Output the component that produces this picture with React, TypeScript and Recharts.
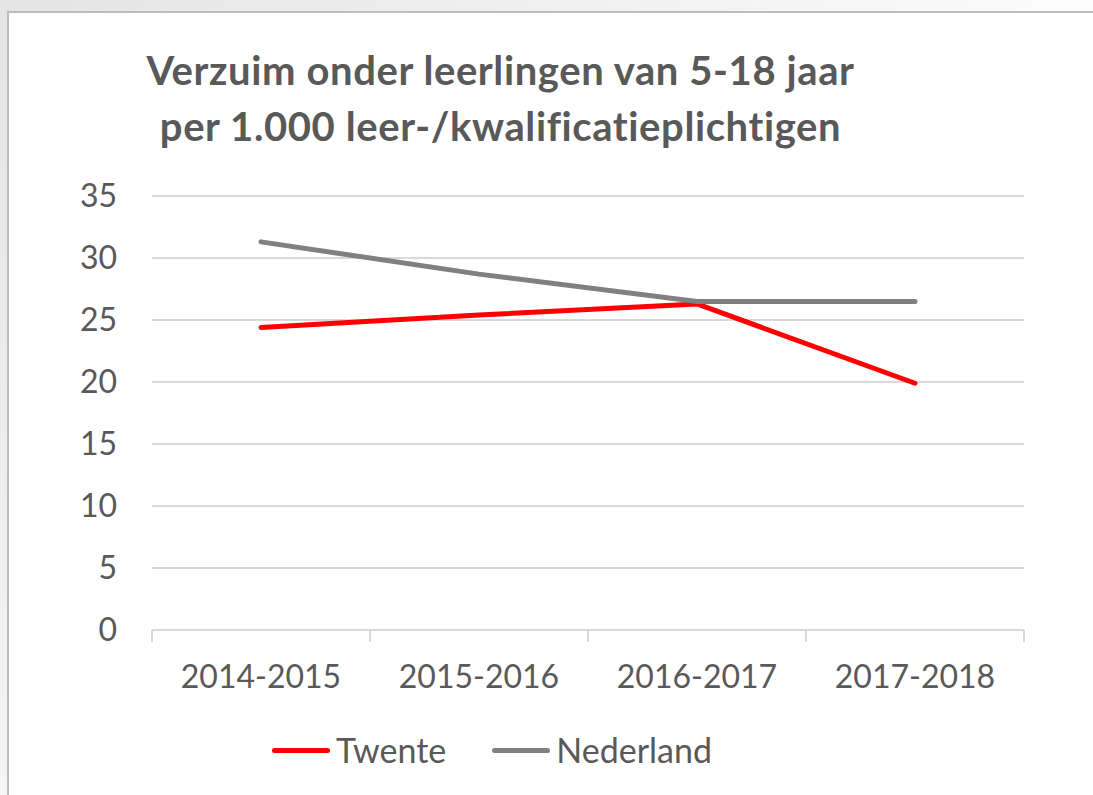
import { CartesianGrid, Line, LineChart, XAxis, YAxis } from 'recharts';

const years = ['2014-2015', '2015-2016', '2016-2017', '2017-2018'];
const twente = [24.4, 25.4, 26.3, 19.9];
const nederland = [31.3, 28.7, 26.5, 26.5];
const yTicks = [0, 5, 10, 15, 20, 25, 30, 35];

const series = [
  { key: 'twente', name: 'Twente', color: '#ff0000' },
  { key: 'nederland', name: 'Nederland', color: '#808080' },
];

const data = years.map((year, i) => ({ year, twente: twente[i], nederland: nederland[i] }));

const FONT = 'Lato, "Open Sans", sans-serif';
const TEXT = '#595959';
const GRID = '#d9d9d9';
const X_TICK_SIZE = 0;
const X_TICK_MARGIN = 34;

function XTick(props: any) {
  const { x, y, payload, index } = props;
  const half = payload?.offset || 109;
  const axisY = y - X_TICK_SIZE - X_TICK_MARGIN;
  const last = (payload?.index ?? index) === years.length - 1;
  return (
    <g>
      <line x1={x - half} x2={x - half} y1={axisY} y2={axisY + 12} stroke={GRID} strokeWidth={2} />
      {last ? <line x1={x + half} x2={x + half} y1={axisY} y2={axisY + 12} stroke={GRID} strokeWidth={2} /> : null}
      <text x={x} y={y} dy="0.75em" textAnchor="middle" fill={TEXT} fontSize={32} fontFamily={FONT}>
        {payload.value}
      </text>
    </g>
  );
}

export default function App() {
  return (
    <div
      style={{
        position: 'absolute',
        left: 0,
        top: 0,
        width: 1093,
        height: 795,
        overflow: 'hidden',
        background: 'linear-gradient(135deg, #e4e4e4 0%, #f2f2f2 35%, #ffffff 65%)',
        fontFamily: FONT,
      }}
    >
      <div
        style={{
          position: 'absolute',
          left: 7,
          top: 11,
          width: 1100,
          height: 800,
          background: '#fff',
          borderLeft: '2px solid #bdbdbd',
          borderTop: '2px solid #bdbdbd',
        }}
      />
      <div
        style={{
          position: 'absolute',
          left: 0,
          top: 42,
          width: 1001,
          textAlign: 'center',
          fontSize: 40,
          letterSpacing: 0.6,
          lineHeight: '56px',
          fontWeight: 700,
          color: TEXT,
        }}
      >
        <div>Verzuim onder leerlingen van 5-18 jaar</div>
        <div>per 1.000 leer-/kwalificatieplichtigen</div>
      </div>
      <div style={{ position: 'absolute', left: 0, top: 0 }}>
        <LineChart width={1093} height={795} data={data} margin={{ top: 196, right: 69, bottom: 105, left: 52 }}>
          <CartesianGrid vertical={false} stroke={GRID} strokeWidth={2} />
          <XAxis
            dataKey="year"
            scale="band"
            height={60}
            axisLine={{ stroke: GRID, strokeWidth: 2 }}
            tickLine={false}
            tickSize={X_TICK_SIZE}
            tickMargin={X_TICK_MARGIN}
            tick={<XTick />}
            interval={0}
          />
          <YAxis
            width={100}
            domain={[0, 35]}
            ticks={yTicks}
            axisLine={false}
            tickLine={false}
            tickSize={0}
            tickMargin={35}
            tick={{ fill: TEXT, fontSize: 32, fontFamily: FONT }}
          />
          {series.map((s) => (
            <Line
              key={s.key}
              type="linear"
              dataKey={s.key}
              name={s.name}
              stroke={s.color}
              strokeWidth={5}
              strokeLinecap="round"
              strokeLinejoin="round"
              dot={false}
              activeDot={false}
              isAnimationActive={false}
            />
          ))}
        </LineChart>
      </div>
      <div
        style={{
          position: 'absolute',
          left: 272,
          top: 730,
          display: 'flex',
          alignItems: 'center',
          fontSize: 34,
          color: TEXT,
          lineHeight: '40px',
        }}
      >
        {series.map((s, i) => (
          <div key={s.key} style={{ display: 'flex', alignItems: 'center', marginRight: i === 0 ? 46 : 0 }}>
            <span style={{ width: 58, height: 5, background: s.color, borderRadius: 3, marginRight: 6 }} />
            <span>{s.name}</span>
          </div>
        ))}
      </div>
    </div>
  );
}
